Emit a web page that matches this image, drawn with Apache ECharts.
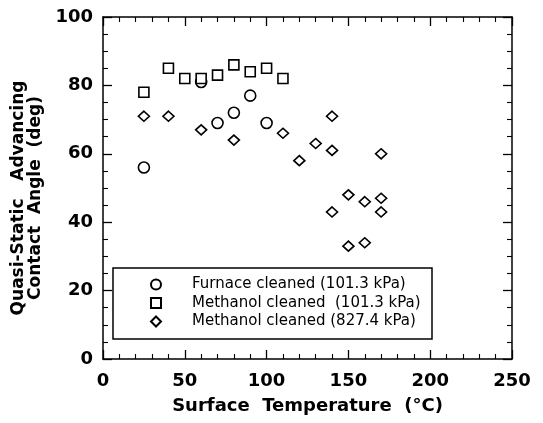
<!DOCTYPE html>
<html>
<head>
<meta charset="utf-8">
<script src="https://cdn.jsdelivr.net/npm/echarts@6/dist/echarts.min.js"></script>
<style>
	html, body { margin: 0; padding: 0; background: #fff; }
	#main { width: 543px; height: 423px; }
</style>
</head>
<body>
<div id="main"></div>
<script>
// values (temperature in C, angle in deg)
var furnaceTemp = [25, 60, 70, 80, 90, 100];
var furnaceAngle = [56, 81, 69, 72, 77, 69];

var methanolTemp = [25, 40, 50, 60, 70, 80, 90, 100, 110];
var methanolAngle = [78, 85, 82, 82, 83, 86, 84, 85, 82];

var highTemp = [25, 40, 60, 80, 110, 120, 130, 140, 140, 140, 150, 150, 160, 160, 170, 170, 170];
var highAngle = [71, 71, 67, 64, 66, 58, 63, 71, 61, 43, 48, 33, 46, 34, 60, 47, 43];

var seriesNames = [
	'Furnace cleaned (101.3 kPa)',
	'Methanol cleaned  (101.3 kPa)',
	'Methanol cleaned (827.4 kPa)'
];
var xTicks = [0, 50, 100, 150, 200, 250];
var yTicks = [0, 20, 40, 60, 80, 100];

function pairs(xs, ys) {
	var out = [];
	for (var i = 0; i < xs.length; i++) {
		out.push([xs[i], ys[i]]);
	}
	return out;
}

var font = 'DejaVu Sans';
var markStyle = {
	color: '#fff',
	borderColor: '#000',
	borderWidth: 1.6,
	opacity: 1
};

function axisBase(ticks, minorSplit, show) {
	return {
		min: ticks[0],
		max: ticks[ticks.length - 1],
		interval: ticks[1] - ticks[0],
		axisLine: { show: true, onZero: false, lineStyle: { color: '#000', width: 1.5 } },
		axisTick: { show: true, inside: true, length: 9, lineStyle: { color: '#000', width: 1.3 } },
		minorTick: { show: true, splitNumber: minorSplit, length: 5, lineStyle: { color: '#000', width: 1.1 } },
		splitLine: { show: false },
		axisLabel: {
			show: show,
			color: '#000',
			fontFamily: font,
			fontWeight: 'bold',
			fontSize: 18
		}
	};
}

var xMain = axisBase(xTicks, 5, true);
xMain.type = 'value';
xMain.position = 'bottom';
xMain.name = 'Surface  Temperature  (\u00b0C)';
xMain.nameLocation = 'middle';
xMain.nameGap = 38;
xMain.nameTextStyle = { color: '#000', fontFamily: font, fontWeight: 'bold', fontSize: 18 };
xMain.axisLabel.margin = 13;

var xTop = axisBase(xTicks, 5, false);
xTop.type = 'value';
xTop.position = 'top';

var yMain = axisBase(yTicks, 4, true);
yMain.type = 'value';
yMain.position = 'left';
yMain.name = 'Quasi-Static   Advancing\nContact  Angle  (deg)';
yMain.nameLocation = 'middle';
yMain.nameGap = 50;
// padding on the right pushes the rotated title a little down the axis
yMain.nameTextStyle = { color: '#000', fontFamily: font, fontWeight: 'bold', fontSize: 17, lineHeight: 17, padding: [0, 20, 0, 0] };
yMain.axisLabel.margin = 10;

var yRight = axisBase(yTicks, 4, false);
yRight.type = 'value';
yRight.position = 'right';

var myChart = echarts.init(document.getElementById('main'));

var option = {
	backgroundColor: '#fff',
	animation: false,
	grid: { left: 103, right: 31, top: 17, bottom: 64 },
	xAxis: [xMain, xTop],
	yAxis: [yMain, yRight],
	graphic: [{
		type: 'rect',
		z: 3,
		shape: { x: 113, y: 268, width: 319, height: 71 },
		style: { fill: '#fff', stroke: '#000', lineWidth: 1.5 }
	}],
	legend: {
		z: 5,
		orient: 'vertical',
		left: 150,
		top: 277,
		padding: 0,
		itemGap: 3.5,
		itemWidth: 10,
		itemHeight: 10,
		textStyle: { color: '#000', fontFamily: font, fontSize: 15, padding: [0, 0, 0, 26] },
		data: [
			{ name: seriesNames[0], icon: 'circle' },
			{ name: seriesNames[1], icon: 'rect' },
			{ name: seriesNames[2], icon: 'diamond' }
		]
	},
	series: [{
		name: seriesNames[0],
		type: 'scatter',
		symbol: 'circle',
		symbolSize: 11,
		itemStyle: markStyle,
		data: pairs(furnaceTemp, furnaceAngle)
	}, {
		name: seriesNames[1],
		type: 'scatter',
		symbol: 'rect',
		symbolSize: 10,
		itemStyle: markStyle,
		data: pairs(methanolTemp, methanolAngle)
	}, {
		name: seriesNames[2],
		type: 'scatter',
		symbol: 'diamond',
		symbolSize: [11, 10],
		itemStyle: markStyle,
		data: pairs(highTemp, highAngle)
	}]
};

myChart.setOption(option);
</script>
</body>
</html>
